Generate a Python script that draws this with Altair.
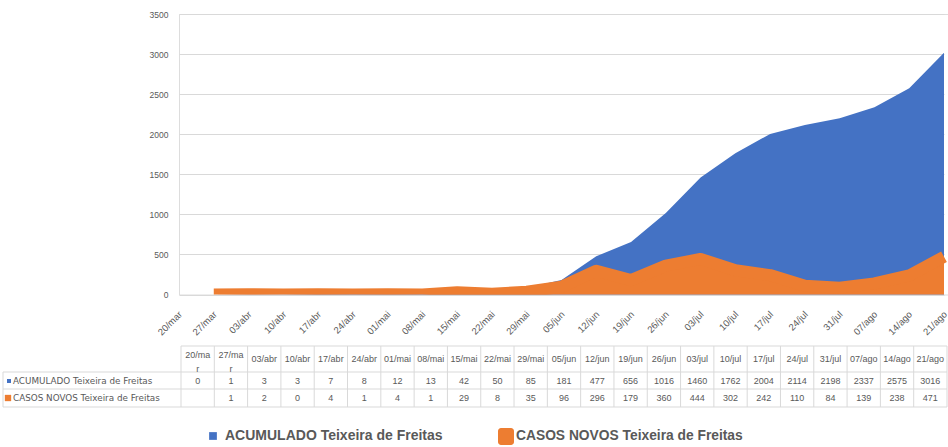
import altair as alt
import pandas as pd

# Weekly COVID-19 figures for Teixeira de Freitas
dates = ["20/mar", "27/mar", "03/abr", "10/abr", "17/abr", "24/abr", "01/mai", "08/mai",
         "15/mai", "22/mai", "29/mai", "05/jun", "12/jun", "19/jun", "26/jun", "03/jul",
         "10/jul", "17/jul", "24/jul", "31/jul", "07/ago", "14/ago", "21/ago"]
acumulado = [0, 1, 3, 3, 7, 8, 12, 13, 42, 50, 85, 181, 477, 656, 1016, 1460,
             1762, 2004, 2114, 2198, 2337, 2575, 3016]
novos = [None, 1, 2, 0, 4, 1, 4, 1, 29, 8, 35, 96, 296, 179, 360, 444,
         302, 242, 110, 84, 139, 238, 471]
# column headings of the data table (the two first ones wrap in their cells)
header_labels = ["20/ma\nr", "27/ma\nr"] + dates[2:]
series_names = ["ACUMULADO Teixeira de Freitas", "CASOS NOVOS Teixeira de Freitas"]
y_ticks = [0, 500, 1000, 1500, 2000, 2500, 3000, 3500]

BLUE = "#4472C4"
ORANGE = "#ED7D31"
GREY = "#595959"
LINE = "#d9d9d9"
FONT = "Liberation Sans"

df = pd.DataFrame({"data": dates, "acumulado": acumulado, "novos": novos})
table = pd.DataFrame({
    "data": dates,
    "cab": header_labels,
    "acc": [str(v) for v in acumulado],
    "new": ["" if v is None else str(v) for v in novos],
})
one = pd.DataFrame({"k": [0]})

# plot: one point per week; table: one cell per week
xscale = alt.Scale(type="point", domain=dates, range=[0, 765], padding=0)
cell_scale = alt.Scale(type="band", domain=dates, range=[2, 768], padding=0)

x_axis = alt.Axis(labelAngle=-45, labelAlign="right", labelBaseline="middle",
                  labelPadding=18, labelOffset=1, labelFontSize=9.5, labelColor=GREY,
                  labelFont=FONT, ticks=False, domain=False, grid=False, title=None)
y_axis = alt.Axis(values=y_ticks, format="d", labelFontSize=8.5, labelColor=GREY,
                  labelFont=FONT, ticks=False, domain=False, labelPadding=11,
                  gridColor=LINE, gridWidth=1, title=None)
yscale = alt.Scale(domain=[0, 3500], nice=False)

base = alt.Chart(df)

blue_area = base.mark_area(color=BLUE, opacity=1).encode(
    x=alt.X("data:N", scale=xscale, axis=x_axis),
    y=alt.Y("acumulado:Q", scale=yscale, axis=y_axis),
)
orange_area = base.mark_area(color=ORANGE, opacity=1).encode(
    x=alt.X("data:N", scale=xscale, axis=None),
    y=alt.Y("novos:Q", scale=yscale),
)
orange_edge = base.mark_line(color=ORANGE, strokeWidth=12, strokeCap="butt",
                             strokeJoin="round", clip=True).encode(
    x=alt.X("data:N", scale=xscale, axis=None),
    y=alt.Y("novos:Q", scale=yscale),
)

# ---- data table under the plot ----
tb = alt.Chart(table)
cell_x = alt.X("data:N", scale=cell_scale, axis=None)
vlines = tb.mark_rule(color=LINE, strokeWidth=1).encode(
    x=alt.X("data:N", scale=cell_scale, axis=None, bandPosition=0),
    y=alt.value(332), y2=alt.value(393))
last_vline = alt.Chart(one).mark_rule(color=LINE, strokeWidth=1).encode(
    x=alt.value(768), y=alt.value(332), y2=alt.value(393))
left_vline = alt.Chart(one).mark_rule(color=LINE, strokeWidth=1).encode(
    x=alt.value(-176), y=alt.value(358), y2=alt.value(393))
top_hline = alt.Chart(one).mark_rule(color=LINE, strokeWidth=1).encode(
    x=alt.value(2), x2=alt.value(768), y=alt.value(332))
row_hlines = [
    alt.Chart(one).mark_rule(color=LINE, strokeWidth=1).encode(
        x=alt.value(-176), x2=alt.value(768), y=alt.value(yy))
    for yy in (358, 375, 393)
]

txt = dict(font=FONT, fontSize=9, color=GREY, align="center", baseline="middle")
head_one = tb.transform_filter("indexof(datum.cab, '\\n') < 0").mark_text(**txt).encode(
    x=cell_x, y=alt.value(345), text="cab:N")
head_two = tb.transform_filter("indexof(datum.cab, '\\n') >= 0").mark_text(
    lineBreak="\n", lineHeight=14, **txt).encode(
    x=cell_x, y=alt.value(341), text="cab:N")
acc_txt = tb.mark_text(**txt).encode(x=cell_x, y=alt.value(367), text="acc:N")
new_txt = tb.mark_text(**txt).encode(x=cell_x, y=alt.value(384), text="new:N")

names = pd.DataFrame({"s": series_names})
row_txt = dict(font="DejaVu Sans", fontSize=8.8, color=GREY, align="left",
               baseline="middle")
row_label_acc = alt.Chart(names.iloc[[0]]).mark_text(**row_txt).encode(
    x=alt.value(-166), y=alt.value(367), text="s:N")
row_label_new = alt.Chart(names.iloc[[1]]).mark_text(**row_txt).encode(
    x=alt.value(-166), y=alt.value(384), text="s:N")
row_key_acc = alt.Chart(one).mark_point(shape="square", filled=True, size=16,
                                        color=BLUE, opacity=1).encode(
    x=alt.value(-170), y=alt.value(367))
row_key_new = alt.Chart(one).mark_point(shape="square", filled=True, size=40,
                                        color=ORANGE, opacity=1).encode(
    x=alt.value(-171), y=alt.value(384))

# ---- legend ----
leg_key_acc = alt.Chart(one).mark_point(shape="square", filled=True, size=60,
                                        color=BLUE, opacity=1).encode(
    x=alt.value(34), y=alt.value(422))
leg_key_new = alt.Chart(one).mark_rect(color=ORANGE, cornerRadius=3).encode(
    x=alt.value(319), x2=alt.value(335), y=alt.value(414), y2=alt.value(431))
leg_label_acc = alt.Chart(names.iloc[[0]]).mark_text(
    font=FONT, fontSize=14, fontWeight="bold", color=GREY, align="left",
    baseline="middle").encode(x=alt.value(46), y=alt.value(422), text="s:N")
leg_label_new = alt.Chart(names.iloc[[1]]).mark_text(
    font=FONT, fontSize=13.8, fontWeight="bold", color=GREY, align="left",
    baseline="middle").encode(x=alt.value(337), y=alt.value(422), text="s:N")

chart = alt.layer(
    blue_area, orange_area, orange_edge,
    vlines, last_vline, left_vline, top_hline, *row_hlines,
    head_one, head_two, acc_txt, new_txt,
    row_key_acc, row_key_new, row_label_acc, row_label_new,
    leg_key_acc, leg_key_new, leg_label_acc, leg_label_new,
).resolve_scale(x="independent").properties(
    width=769, height=280.5,
    autosize=alt.AutoSizeParams(type="none"),
    padding={"left": 179, "top": 14, "right": 0, "bottom": 152.5},
).configure_view(stroke=None).configure(background="white")

chart.save("out.html", embed_options={"renderer": "svg", "actions": False})
